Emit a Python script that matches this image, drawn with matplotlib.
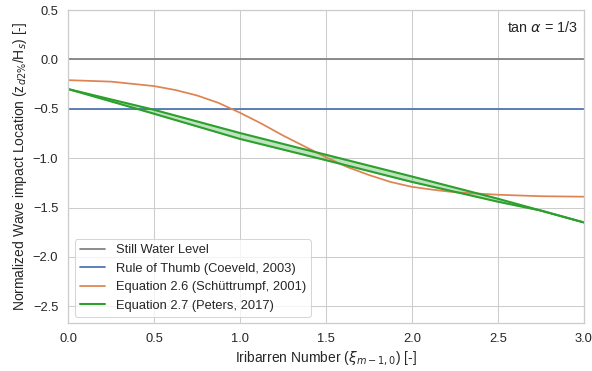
import numpy as np
import matplotlib.pyplot as plt
import seaborn as sns

sns.set_theme(style="whitegrid")
plt.rcParams['font.family'] = ['Liberation Sans', 'DejaVu Sans']
plt.rcParams['xtick.labelsize'] = 12.5
plt.rcParams['ytick.labelsize'] = 12.5
plt.rcParams['axes.labelsize'] = 13.5
plt.rcParams['legend.fontsize'] = 12.5

# Rule of thumb and still water level
swl = 0.0
coeveld = -0.5

# Equation 2.6 (Schuttrumpf)
xi_s = [0.0, 0.25, 0.5, 0.625, 0.75, 0.875, 1.0, 1.125, 1.25, 1.375, 1.5,
        1.625, 1.75, 1.875, 2.0, 2.125, 2.25, 2.5, 2.75, 3.0]
z_s = [-0.21, -0.225, -0.27, -0.31, -0.365, -0.44, -0.54, -0.65, -0.77, -0.88, -0.99,
       -1.09, -1.17, -1.24, -1.29, -1.32, -1.345, -1.37, -1.385, -1.39]

# Equation 2.7 (Peters) upper / lower bound
xi_p = [0.0, 0.5, 1.0, 1.5, 2.0, 2.5, 2.75, 3.0]
z_p_up = [-0.3, -0.51, -0.745, -0.965, -1.185, -1.41, -1.53, -1.65]
z_p_lo = [-0.3, -0.55, -0.805, -1.02, -1.24, -1.44, -1.53, -1.65]

fig, ax = plt.subplots(figsize=(8, 371/74), dpi=74)
fig.subplots_adjust(left=0.115, right=0.986, top=0.973, bottom=0.129)

green = '#2ca02c'
lw = 1.7
ax.axhline(swl, color='gray', lw=lw, label='Still Water Level')
ax.axhline(coeveld, color='#4c72b0', lw=lw, label='Rule of Thumb (Coeveld, 2003)')
ax.plot(xi_s, z_s, color='#dd8452', lw=lw, label='Equation 2.6 (Schüttrumpf, 2001)')
ax.plot(xi_p, z_p_up, color=green, lw=2, label='Equation 2.7 (Peters, 2017)')
ax.plot(xi_p, z_p_lo, color=green, lw=2)
ax.fill_between(xi_p, z_p_lo, z_p_up, color=green, alpha=0.3)

ax.text(2.76, 0.32, r'tan $\alpha$ = 1/3', ha='center', va='center', fontsize=14)

ax.set_xlim(0, 3)
ax.set_ylim(-2.67, 0.5)
ax.set_xlabel(r'Iribarren Number ($\xi_{m-1,0}$) [-]')
ax.set_ylabel(r'Normalized Wave impact Location (z$_{d2\%}$/H$_s$) [-]')
ax.legend(loc='lower left')

plt.savefig('out.png', dpi=74)
